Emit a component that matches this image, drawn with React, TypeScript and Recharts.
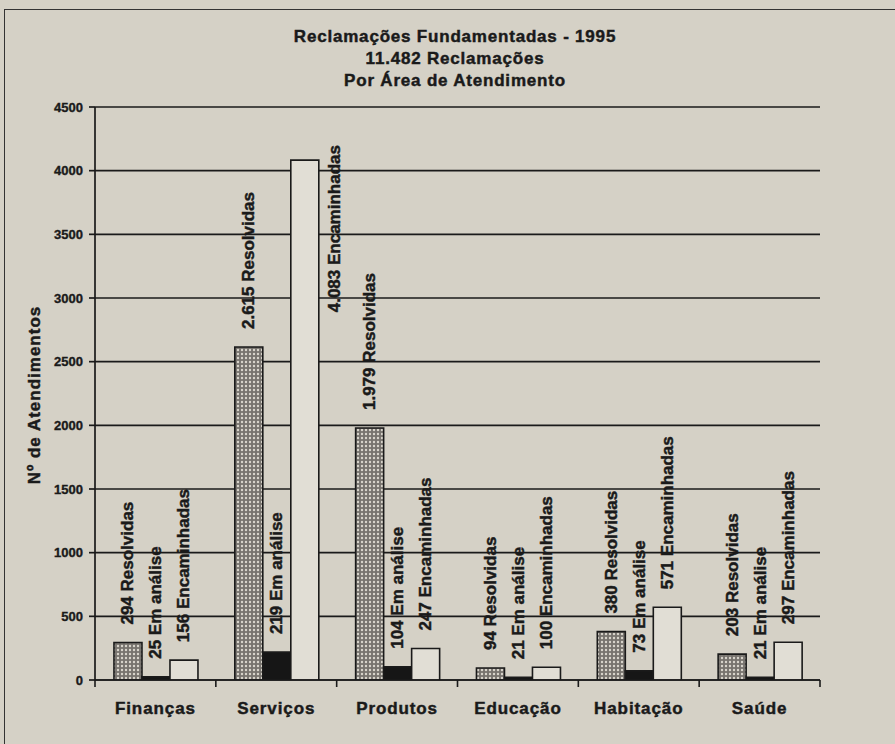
import React from 'react';
import { BarChart, Bar, XAxis, YAxis, CartesianGrid, LabelList } from 'recharts';

const categories = ['Finanças', 'Serviços', 'Produtos', 'Educação', 'Habitação', 'Saúde'];
const resolvidas = [294, 2615, 1979, 94, 380, 203];
const emAnalise = [25, 219, 104, 21, 73, 21];
const encaminhadas = [156, 4083, 247, 100, 571, 297];
const yTicks = [0, 500, 1000, 1500, 2000, 2500, 3000, 3500, 4000, 4500];
const titleLines = ['Reclamações Fundamentadas - 1995', '11.482 Reclamações', 'Por Área de Atendimento'];
const yAxisTitle = 'Nº de Atendimentos';
const seriesNames = { resolvidas: 'Resolvidas', emAnalise: 'Em análise', encaminhadas: 'Encaminhadas' };

const data = categories.map((c, i) => ({
  cat: c,
  resolvidas: resolvidas[i],
  emAnalise: emAnalise[i],
  encaminhadas: encaminhadas[i],
}));

const FONT = '"Liberation Sans", Arial, Helvetica, sans-serif';
const INK = '#1a1a1a';
const BG = '#d5d1c6';
const PLOT_TOP = 107;

const fmt = (v: number) => String(v).replace(/\B(?=(\d{3})+(?!\d))/g, '.');

const makeLabel = (name: string) => (props: any) => {
  const vb = props.viewBox || props;
  const x = Number(vb.x);
  const y = Number(vb.y);
  const w = Number(vb.width);
  const text = `${fmt(Number(props.value))} ${name}`;
  const estLen = text.length * 0.6 * 17;
  let cx = x + w / 2;
  let sy = y - 18;
  let anchor: 'start' | 'end' = 'start';
  if (sy - estLen < PLOT_TOP) {
    cx = x + w + 16;
    sy = PLOT_TOP + 38;
    anchor = 'end';
  }
  return (
    <text
      x={cx}
      y={sy}
      transform={`rotate(-90 ${cx} ${sy})`}
      textAnchor={anchor}
      dominantBaseline="central"
      fontFamily={FONT}
      fontWeight="bold"
      fontSize={17}
      fill={INK}
      stroke={INK}
      strokeWidth={0.45}
    >
      {text}
    </text>
  );
};

const CategoryTick = (props: any) => {
  const { x, y, payload, index, width } = props;
  const bw = Number(width) / categories.length;
  const left = x - bw / 2;
  const right = x + bw / 2;
  return (
    <g>
      <line x1={left} y1={y} x2={left} y2={y + 7} stroke={INK} strokeWidth={1.6} />
      {index === categories.length - 1 && (
        <line x1={right} y1={y} x2={right} y2={y + 7} stroke={INK} strokeWidth={1.6} />
      )}
      <text
        x={x}
        y={y + 34}
        textAnchor="middle"
        fontFamily={FONT}
        fontWeight="bold"
        fontSize={17}
        letterSpacing={0.9}
        fill={INK}
        stroke={INK}
        strokeWidth={0.45}
      >
        {payload.value}
      </text>
    </g>
  );
};

export default function App() {
  return (
    <div
      style={{
        position: 'absolute',
        left: 0,
        top: 0,
        width: 895,
        height: 744,
        background: BG,
        overflow: 'hidden',
        fontFamily: FONT,
      }}
    >
      <div
        style={{
          position: 'absolute',
          left: 4,
          top: 9,
          width: 1000,
          height: 1000,
          borderLeft: '1.5px solid #333',
          borderTop: '1.5px solid #333',
        }}
      />
      <div
        style={{
          position: 'absolute',
          left: 155,
          top: 26,
          width: 600,
          textAlign: 'center',
          fontWeight: 'bold',
          fontSize: 17,
          lineHeight: '22px',
          letterSpacing: 0.8,
          color: INK,
          WebkitTextStroke: '0.45px #1a1a1a',
        }}
      >
        {titleLines.map((t) => (
          <div key={t}>{t}</div>
        ))}
      </div>
      <div
        style={{
          position: 'absolute',
          left: 35,
          top: 395,
          transform: 'translate(-50%, -50%) rotate(-90deg)',
          whiteSpace: 'nowrap',
          fontWeight: 'bold',
          fontSize: 17,
          letterSpacing: 1,
          color: INK,
          WebkitTextStroke: '0.45px #1a1a1a',
        }}
      >
        {yAxisTitle}
      </div>
      <div style={{ position: 'absolute', left: 0, top: 0 }}>
        <BarChart
          width={895}
          height={744}
          data={data}
          margin={{ top: PLOT_TOP, right: 75, bottom: 34, left: 35 }}
          barCategoryGap="15.7%"
          barGap={0}
        >
          <defs>
            <pattern id="hatch" width="4" height="4" patternUnits="userSpaceOnUse">
              <rect width="4" height="4" fill="#77736e" />
              <circle cx="2" cy="2" r="1.2" fill="#d9d5cc" />
            </pattern>
          </defs>
          <CartesianGrid vertical={false} stroke={INK} strokeWidth={1.7} />
          <XAxis
            dataKey="cat"
            axisLine={{ stroke: INK, strokeWidth: 1.7 }}
            tickLine={false}
            tickSize={0}
            tickMargin={0}
            tick={<CategoryTick />}
            interval={0}
          />
          <YAxis
            width={60}
            domain={[0, 4500]}
            ticks={yTicks}
            allowDataOverflow
            axisLine={{ stroke: INK, strokeWidth: 1.7 }}
            tickLine={{ stroke: INK, strokeWidth: 1.7 }}
            tickSize={6}
            tickMargin={6}
            tick={{ fill: INK, stroke: INK, strokeWidth: 0.35, fontFamily: FONT, fontWeight: 'bold', fontSize: 13 }}
          />
          <Bar dataKey="resolvidas" fill="url(#hatch)" stroke={INK} strokeWidth={1.6} isAnimationActive={false}>
            <LabelList dataKey="resolvidas" content={makeLabel(seriesNames.resolvidas)} />
          </Bar>
          <Bar dataKey="emAnalise" fill="#161616" stroke={INK} strokeWidth={1.6} isAnimationActive={false}>
            <LabelList dataKey="emAnalise" content={makeLabel(seriesNames.emAnalise)} />
          </Bar>
          <Bar dataKey="encaminhadas" fill="#e1ded5" stroke={INK} strokeWidth={1.6} isAnimationActive={false}>
            <LabelList dataKey="encaminhadas" content={makeLabel(seriesNames.encaminhadas)} />
          </Bar>
        </BarChart>
      </div>
    </div>
  );
}
